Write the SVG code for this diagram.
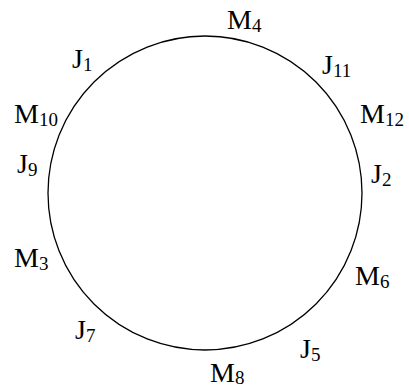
<svg xmlns="http://www.w3.org/2000/svg" width="409" height="387" viewBox="0 0 409 387">
<style>
text{font-family:"Liberation Serif","Times New Roman",serif;font-size:28px;fill:#000}
.s{font-size:19px}
</style>
<rect width="409" height="387" fill="#fff"/>
<g id="connectors">
<circle cx="205" cy="193" r="157" fill="none" stroke="#000" stroke-width="1.3"/>
</g>
<g id="M4"><text x="227" y="29">M<tspan class="s" dy="3">4</tspan></text></g>
<g id="J1"><text x="72" y="68">J<tspan class="s" dy="3">1</tspan></text></g>
<g id="J11"><text x="322" y="74">J<tspan class="s" dy="3">11</tspan></text></g>
<g id="M10"><text x="14" y="123">M<tspan class="s" dy="3">10</tspan></text></g>
<g id="M12"><text x="360" y="123">M<tspan class="s" dy="3">12</tspan></text></g>
<g id="J9"><text x="17" y="173">J<tspan class="s" dy="3">9</tspan></text></g>
<g id="J2"><text x="371" y="183">J<tspan class="s" dy="3">2</tspan></text></g>
<g id="M3"><text x="14" y="267">M<tspan class="s" dy="3">3</tspan></text></g>
<g id="M6"><text x="355" y="285">M<tspan class="s" dy="3">6</tspan></text></g>
<g id="J7"><text x="75" y="339">J<tspan class="s" dy="3">7</tspan></text></g>
<g id="J5"><text x="300" y="358">J<tspan class="s" dy="3">5</tspan></text></g>
<g id="M8"><text x="210" y="382">M<tspan class="s" dy="2">8</tspan></text></g>
</svg>
